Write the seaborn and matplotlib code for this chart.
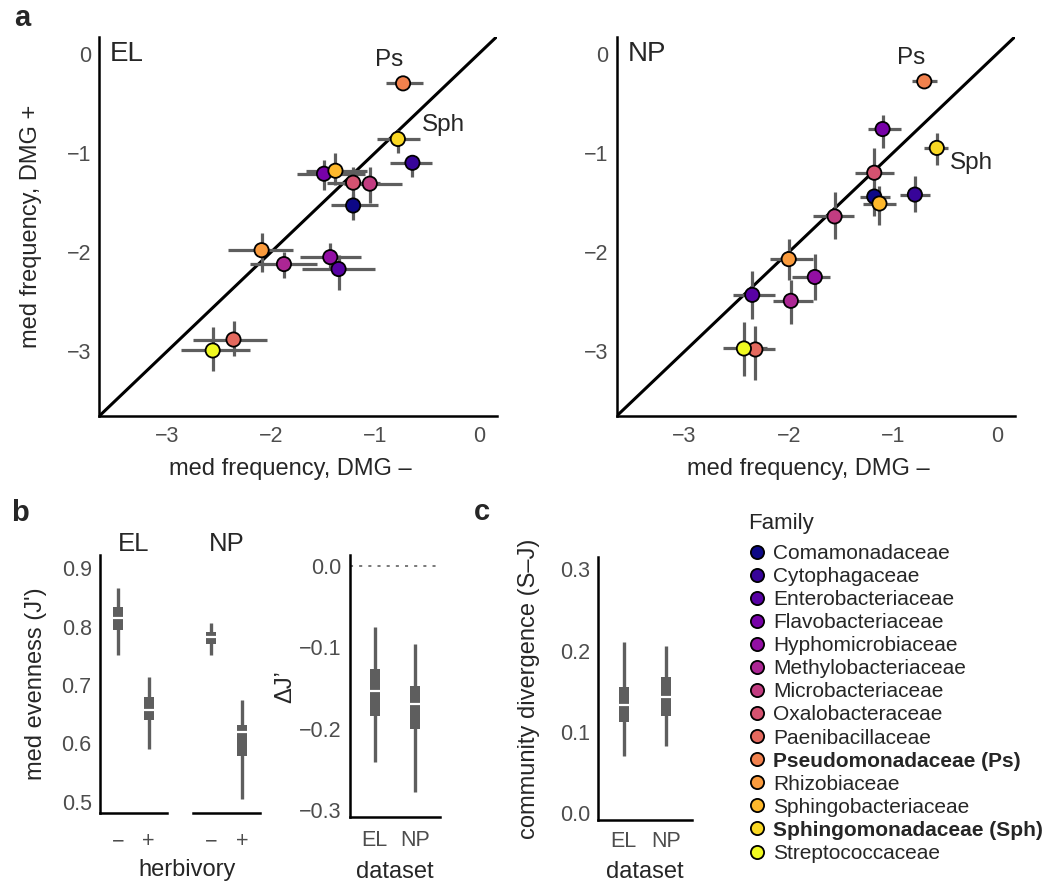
import numpy as np
import pandas as pd
import seaborn as sns
import matplotlib.pyplot as plt
from matplotlib.lines import Line2D

# ---- data ----
families = ["Comamonadaceae", "Cytophagaceae", "Enterobacteriaceae", "Flavobacteriaceae",
            "Hyphomicrobiaceae", "Methylobacteriaceae", "Microbacteriaceae", "Oxalobacteraceae",
            "Paenibacillaceae", "Pseudomonadaceae (Ps)", "Rhizobiaceae", "Sphingobacteriaceae",
            "Sphingomonadaceae (Sph)", "Streptococcaceae"]

# EL: median log frequency without (x) and with (y) damage, plus intervals
el_x = [-1.21, -0.64, -1.35, -1.49, -1.43, -1.875, -1.05, -1.21, -2.36, -0.73, -2.09, -1.38, -0.78, -2.56]
el_xlo = [-1.42, -0.86, -1.70, -1.75, -1.72, -2.20, -1.30, -1.46, -2.75, -0.89, -2.41, -1.66, -0.98, -2.86]
el_xhi = [-0.97, -0.45, -1.00, -1.10, -1.13, -1.56, -0.74, -0.95, -2.04, -0.54, -1.79, -1.08, -0.57, -2.20]
el_y = [-1.53, -1.10, -2.17, -1.21, -2.05, -2.12, -1.31, -1.30, -2.88, -0.30, -1.98, -1.18, -0.86, -2.99]
el_ylo = [-1.68, -1.24, -2.38, -1.37, -2.16, -2.26, -1.50, -1.47, -3.05, -0.34, -2.20, -1.32, -1.00, -3.20]
el_yhi = [-1.41, -1.02, -2.03, -1.07, -1.91, -2.00, -1.14, -1.14, -2.69, -0.26, -1.81, -1.00, -0.77, -2.75]

# NP
np_x = [-1.18, -0.79, -2.35, -1.10, -1.75, -1.98, -1.56, -1.18, -2.32, -0.70, -2.00, -1.13, -0.58, -2.43]
np_xlo = [-1.32, -0.93, -2.53, -1.24, -1.97, -2.15, -1.77, -1.36, -2.44, -0.82, -2.18, -1.29, -0.70, -2.63]
np_xhi = [-1.03, -0.65, -2.13, -0.92, -1.60, -1.77, -1.37, -0.99, -2.13, -0.58, -1.77, -0.97, -0.47, -2.21]
np_y = [-1.44, -1.42, -2.43, -0.76, -2.25, -2.49, -1.64, -1.20, -2.98, -0.28, -2.07, -1.51, -0.95, -2.97]
np_ylo = [-1.64, -1.60, -2.67, -0.95, -2.48, -2.72, -1.87, -1.46, -3.29, -0.33, -2.28, -1.73, -1.12, -3.25]
np_yhi = [-1.34, -1.23, -2.19, -0.62, -2.02, -2.28, -1.39, -0.95, -2.74, -0.23, -1.87, -1.33, -0.80, -2.70]

# panel b: evenness by dataset and herbivory
even_dataset = ["EL", "EL", "NP", "NP"]
even_herb = ["\u2212", "+", "\u2212", "+"]
even_lo95 = [0.752, 0.590, 0.752, 0.505]
even_lo50 = [0.794, 0.640, 0.770, 0.578]
even_med = [0.815, 0.658, 0.783, 0.619]
even_hi50 = [0.834, 0.679, 0.791, 0.632]
even_hi95 = [0.866, 0.714, 0.806, 0.674]

# panel b right: delta J'
dj_dataset = ["EL", "NP"]
dj_lo95 = [-0.241, -0.278]
dj_lo50 = [-0.185, -0.200]
dj_med = [-0.154, -0.170]
dj_hi50 = [-0.127, -0.147]
dj_hi95 = [-0.075, -0.096]

# panel c: community divergence
cd_dataset = ["EL", "NP"]
cd_lo95 = [0.070, 0.083]
cd_lo50 = [0.112, 0.120]
cd_med = [0.133, 0.143]
cd_hi50 = [0.155, 0.168]
cd_hi95 = [0.210, 0.206]

# ---- style ----
sns.set_theme(style="white")
plt.rcParams["font.family"] = ["Liberation Sans", "DejaVu Sans"]
plt.rcParams["axes.linewidth"] = 1.8
plt.rcParams["axes.edgecolor"] = "black"

palette = dict(zip(families, sns.color_palette(plt.cm.plasma(np.linspace(0, 1, len(families))))))
bar_col = "#5e5e5e"
tick_col = "#4d4d4d"
TICK = 15.5
TITLE = 17

W, H = 1050, 889
fig = plt.figure(figsize=(W / 100, H / 100), dpi=100)


def px_axes(left, top, right, bottom):
    return fig.add_axes([left / W, 1 - bottom / H, (right - left) / W, (bottom - top) / H])


def style_axes(ax, left=True):
    sns.despine(ax=ax, left=not left)
    ax.tick_params(length=0, labelsize=TICK, labelcolor=tick_col, pad=6)


def scatter_panel(ax, name, x, xlo, xhi, y, ylo, yhi, lab_pos):
    df = pd.DataFrame({"family": families, "x": x, "y": y,
                       "xlo": xlo, "xhi": xhi, "ylo": ylo, "yhi": yhi})
    ax.axline((0, 0), slope=1, color="black", lw=2.2, zorder=1)
    ax.hlines(df["y"], df["xlo"], df["xhi"], color=bar_col, lw=2.3, zorder=2)
    ax.vlines(df["x"], df["ylo"], df["yhi"], color=bar_col, lw=2.3, zorder=2)
    sns.scatterplot(data=df, x="x", y="y", hue="family", palette=palette, s=105,
                    edgecolor="black", linewidth=1.3, legend=False, ax=ax, zorder=3)
    ax.set_xlim(-3.65, 0.17)
    ax.set_ylim(-3.65, 0.17)
    ax.set_xticks([-3, -2, -1, 0])
    ax.set_yticks([-3, -2, -1, 0])
    style_axes(ax)
    ax.tick_params(axis="x", pad=7)
    ax.set_xlabel("med frequency, DMG \u2013", fontsize=TITLE)
    ax.set_ylabel("med frequency, DMG +", fontsize=TITLE)
    ax.xaxis.set_label_coords(0.48, -0.112)
    ax.yaxis.set_label_coords(-0.145, 0.5)
    ax.text(0.027, 0.955, name, transform=ax.transAxes, fontsize=20, va="center", ha="left")
    for lab, (lx, ly) in lab_pos.items():
        ax.text(lx, ly, lab, fontsize=17.5, ha="center", va="center")


ax_el = px_axes(99.3, 36.7, 496.7, 416)
scatter_panel(ax_el, "EL", el_x, el_xlo, el_xhi, el_y, el_ylo, el_yhi,
              {"Ps": (-0.86, -0.06), "Sph": (-0.34, -0.72)})

ax_np = px_axes(616.7, 36.7, 1015, 416)
scatter_panel(ax_np, "NP", np_x, np_xlo, np_xhi, np_y, np_ylo, np_yhi,
              {"Ps": (-0.83, -0.04), "Sph": (-0.25, -1.10)})
ax_np.set_ylabel("")


def interval(ax, pos, lo95, lo50, med, hi50, hi95):
    ax.vlines(pos, lo95, hi95, color=bar_col, lw=2.4, zorder=2)
    ax.vlines(pos, lo50, hi50, color=bar_col, lw=7.2, zorder=3)
    ax.plot(pos, med, ls="none", marker="_", markersize=7.8, mew=1.6, color="white", zorder=4)


# panel b left: two facets
even = pd.DataFrame({"dataset": even_dataset, "herb": even_herb, "lo95": even_lo95,
                     "lo50": even_lo50, "med": even_med, "hi50": even_hi50, "hi95": even_hi95})
facet_px = {"EL": (100, 166.7), "NP": (193.3, 260)}
for i, (ds, sub) in enumerate(even.groupby("dataset")):
    l, r = facet_px[ds]
    ax = px_axes(l, 555, r, 813)
    pos = np.arange(1, len(sub) + 1)
    interval(ax, pos, sub["lo95"], sub["lo50"], sub["med"], sub["hi50"], sub["hi95"])
    ax.set_xlim(0.4, 2.6)
    ax.set_ylim(0.4806, 0.923)
    ax.set_xticks(pos)
    ax.set_xticklabels(sub["herb"])
    ax.set_yticks([0.5, 0.6, 0.7, 0.8, 0.9])
    style_axes(ax, left=(i == 0))
    ax.tick_params(axis="x", pad=13)
    ax.set_title(ds, fontsize=18.5, pad=3)
    if i == 0:
        ax.set_ylabel("med evenness (J')", fontsize=TITLE)
        ax.set_xlabel("herbivory", fontsize=TITLE)
        ax.xaxis.set_label_coords(1.3, -0.18)
        ax.yaxis.set_label_coords(-0.8, 0.5)
    else:
        ax.set_yticks([])

# panel b right: delta J'
ax_dj = px_axes(350, 555, 440, 817.3)
ax_dj.axhline(0, color="#555555", lw=1.1, ls=(0, (2, 4)), zorder=1)
interval(ax_dj, np.arange(1, 3), dj_lo95, dj_lo50, dj_med, dj_hi50, dj_hi95)
ax_dj.set_xlim(0.4, 2.6)
ax_dj.set_ylim(-0.309, 0.0135)
ax_dj.set_xticks([1, 2])
ax_dj.set_xticklabels(dj_dataset)
ax_dj.set_yticks([-0.3, -0.2, -0.1, 0.0])
ax_dj.set_yticklabels(["\u22120.3", "\u22120.2", "\u22120.1", "0.0"])
style_axes(ax_dj)
ax_dj.tick_params(axis="x", pad=9)
ax_dj.set_ylabel("\u0394J\u2019", fontsize=TITLE)
ax_dj.set_xlabel("dataset", fontsize=TITLE)
ax_dj.yaxis.set_label_coords(-0.6, 0.5)
ax_dj.xaxis.set_label_coords(0.5, -0.165)

# panel c
ax_c = px_axes(598.3, 556.7, 691.7, 820)
interval(ax_c, np.arange(1, 3), cd_lo95, cd_lo50, cd_med, cd_hi50, cd_hi95)
ax_c.set_xlim(0.4, 2.6)
ax_c.set_ylim(-0.0086, 0.3156)
ax_c.set_xticks([1, 2])
ax_c.set_xticklabels(cd_dataset)
ax_c.set_yticks([0.0, 0.1, 0.2, 0.3])
ax_c.set_yticklabels(["0.0", "0.1", "0.2", "0.3"])
style_axes(ax_c)
ax_c.tick_params(axis="x", pad=8)
ax_c.set_ylabel("community divergence (S\u2013J)", fontsize=TITLE)
ax_c.set_xlabel("dataset", fontsize=TITLE)
ax_c.yaxis.set_label_coords(-0.62, 0.5)
ax_c.xaxis.set_label_coords(0.5, -0.155)

# legend
handles = [Line2D([], [], ls="none", marker="o", markersize=9.5, markerfacecolor=palette[f],
                  markeredgecolor="black", markeredgewidth=1.3) for f in families]
fig.text(748 / W, 1 - 523 / H, "Family", fontsize=16, ha="left", va="center")
leg = fig.legend(handles, families, loc="upper left",
                 bbox_to_anchor=(747 / W, 1 - 544 / H), frameon=False, fontsize=15,
                 labelspacing=0.195, handletextpad=0.25, handlelength=1.0,
                 borderaxespad=0, borderpad=0)
for t in leg.get_texts():
    if "(" in t.get_text():
        t.set_fontweight("bold")

# panel letters
fig.text(22 / W, 1 - 18 / H, "a", fontsize=21, fontweight="bold", ha="center", va="center")
fig.text(20 / W, 1 - 513 / H, "b", fontsize=21, fontweight="bold", ha="center", va="center")
fig.text(482 / W, 1 - 512 / H, "c", fontsize=21, fontweight="bold", ha="center", va="center")

fig.savefig("out.png", dpi=100)
